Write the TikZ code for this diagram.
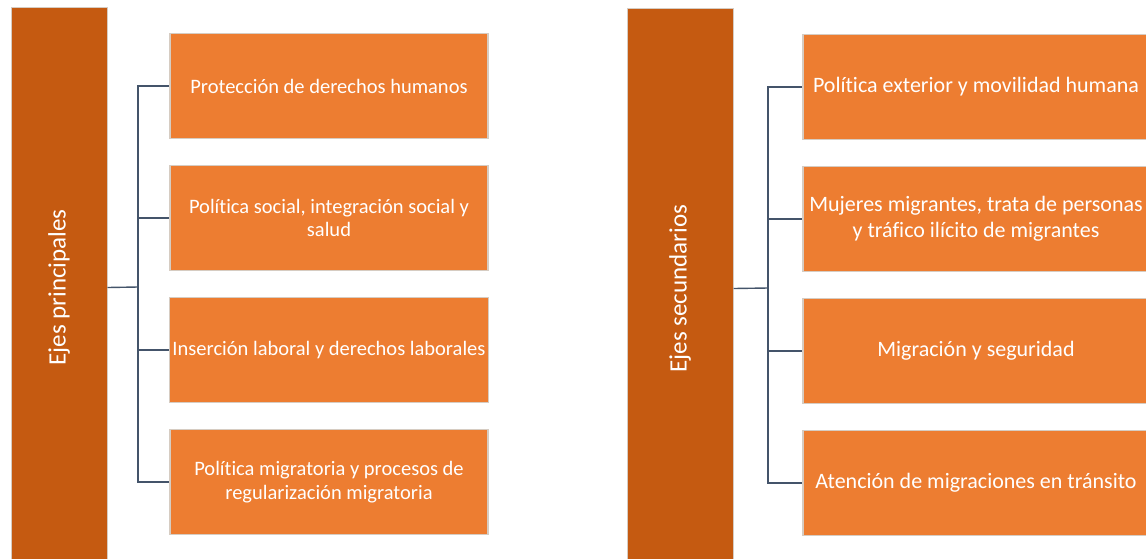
\documentclass[tikz,border=0pt]{standalone}
\usepackage{fontspec}
\setmainfont{Carlito}[Ligatures=NoCommon]
\definecolor{barorange}{HTML}{C55A11}
\definecolor{boxorange}{HTML}{ED7D31}
\definecolor{edgegray}{HTML}{D6CCC2}
\definecolor{linkslate}{HTML}{44546A}

\begin{document}
\begin{tikzpicture}[x=1pt,y=-1pt,node distance=132pt]
\tikzstyle{axis} = [rectangle, fill=barorange, draw=edgegray, line width=1pt, minimum height=560pt, text=white, font=\fontsize{25}{30}\selectfont]
\tikzstyle{topic} = [rectangle, fill=boxorange, draw=edgegray, line width=1.2pt, minimum height=105pt, minimum width=318pt, text=white, align=center, font=\fontsize{20.5}{23.5}\selectfont]
\tikzstyle{topicwide} = [topic, minimum width=346pt, font=\fontsize{22}{26}\selectfont]
\tikzstyle{link} = [draw=linkslate, line width=1.4pt]

\useasboundingbox (0,0) rectangle (1146,558);

\node (EjesPrincipales) [axis, minimum width=96pt, anchor=north] at (59,7) {\rotatebox{90}{Ejes principales}};
\node (EjesSecundarios) [axis, minimum width=106pt, anchor=north] at (680,8) {\rotatebox{90}{Ejes secundarios}};

\node (Proteccion) [topic] at (329,86) {Protección de derechos humanos};
\node (PoliticaSocial) [topic, below of=Proteccion] {Política social, integración social y\\salud};
\node (InsercionLaboral) [topic, below of=PoliticaSocial] {Inserción laboral y derechos laborales};
\node (PoliticaMigratoria) [topic, below of=InsercionLaboral] {Política migratoria y procesos de\\regularización migratoria};

\node (PoliticaExterior) [topicwide] at (976,87) {Política exterior y movilidad humana};
\node (MujeresMigrantes) [topicwide, below of=PoliticaExterior] {Mujeres migrantes, trata de personas\\y tráfico ilícito de migrantes};
\node (MigracionSeguridad) [topicwide, below of=MujeresMigrantes] {Migración y seguridad};
\node (AtencionTransito) [topicwide, below of=MigracionSeguridad] {Atención de migraciones en tránsito};

\coordinate (JuntaPrincipal) at (138,287);
\coordinate (JuntaSecundaria) at (768,288);

\draw [link] (EjesPrincipales.east) -- (JuntaPrincipal);
\draw [link] (JuntaPrincipal) |- (Proteccion.west);
\draw [link] (JuntaPrincipal) |- (PoliticaSocial.west);
\draw [link] (JuntaPrincipal) |- (InsercionLaboral.west);
\draw [link] (JuntaPrincipal) |- (PoliticaMigratoria.west);

\draw [link] (EjesSecundarios.east) -- (JuntaSecundaria);
\draw [link] (JuntaSecundaria) |- (PoliticaExterior.west);
\draw [link] (JuntaSecundaria) |- (MujeresMigrantes.west);
\draw [link] (JuntaSecundaria) |- (MigracionSeguridad.west);
\draw [link] (JuntaSecundaria) |- (AtencionTransito.west);

\end{tikzpicture}
\end{document}
